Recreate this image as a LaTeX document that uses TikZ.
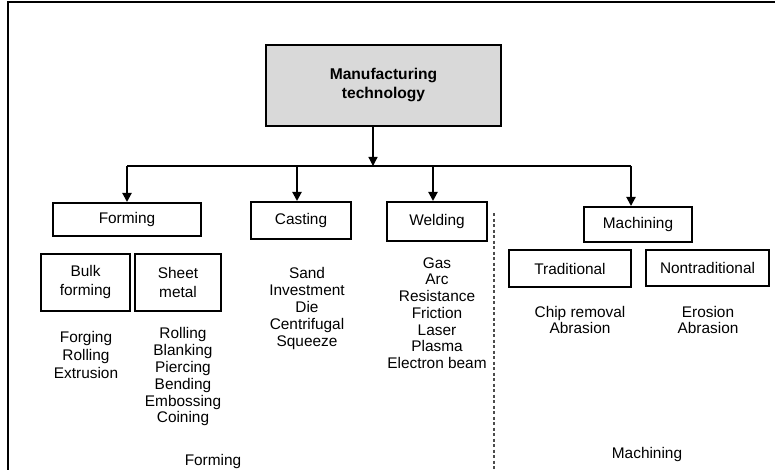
\documentclass[tikz,border=0pt]{standalone}
\usepackage{fontspec}
\setmainfont{Liberation Sans}
\usetikzlibrary{arrows.meta}
\begin{document}
\begin{tikzpicture}[x=1pt,y=-1pt,
  box/.style={draw, line width=2pt, inner sep=0pt, align=center, font=\fontsize{15.4}{19}\selectfont},
  lst/.style={align=center, inner sep=0pt, font=\fontsize{15.4}{16.8}\selectfont},
  lbl/.style={inner sep=0pt, font=\fontsize{15.4}{17}\selectfont},
  arr/.style={line width=2pt, -{Triangle[length=9pt,width=9pt]}},
  stemarr/.style={line width=1.3pt, -{Triangle[length=9pt,width=9pt]}},
  busline/.style={line width=1.6pt},
  sep/.style={line width=1.3pt, dash pattern=on 3pt off 2.5pt, black!70}]
\useasboundingbox (0,0) rectangle (775,470);
% frame
\coordinate (fTR) at (775,2);
\coordinate (fTL) at (8,2);
\coordinate (fBL) at (8,470);
\draw[line width=2.5pt, line join=miter] (fTR) -- (fTL) -- (fBL);
% main box
\node[box, fill=black!15, line width=2.5pt, minimum width=235pt, minimum height=81pt,
      font=\bfseries\fontsize{15.6}{19}\selectfont] (mt) at (383.5,85.5) {Manufacturing\\technology};
% category boxes
\node[box, minimum width=148pt, minimum height=33pt] (forming) at (127,219.5) {Forming};
\node[box, minimum width=100pt, minimum height=37pt] (casting) at (301,220.5) {Casting};
\node[box, minimum width=100pt, minimum height=39pt] (welding) at (437,221.5) {Welding};
\node[box, minimum width=108pt, minimum height=35pt] (machining) at (638,224.5) {Machining};
% sub boxes
\node[box, minimum width=89pt, minimum height=57pt] (bulk) at (85.5,282.5) {Bulk\\forming};
\node[box, minimum width=86pt, minimum height=57pt] (sheet) at (178,282.5) {Sheet\\metal};
\node[box, minimum width=122pt, minimum height=37pt] (trad) at (570,268.5) {Traditional};
\node[box, minimum width=123pt, minimum height=36pt] (nontrad) at (707.5,268) {Nontraditional};
% lists
\node[lst, font=\fontsize{15.4}{18}\selectfont] (bulkL) at (86,355) {Forging\\Rolling\\Extrusion};
\node[lst] (sheetL) at (183,377) {Rolling\\Blanking\\Piercing\\Bending\\Embossing\\Coining};
\node[lst] (castL) at (307,308.5) {Sand\\Investment\\Die\\Centrifugal\\Squeeze};
\node[lst, font=\fontsize{15.4}{16.7}\selectfont] (weldL) at (437,313) {Gas\\Arc\\Resistance\\Friction\\Laser\\Plasma\\Electron beam};
\node[lst, font=\fontsize{15.4}{16}\selectfont] (tradL) at (580,320) {Chip removal\\Abrasion};
\node[lst, font=\fontsize{15.4}{16}\selectfont] (nontL) at (708,320) {Erosion\\Abrasion};
% bottom labels
\node[lbl] (formLbl) at (213,462) {Forming};
\node[lbl] (machLbl) at (647,455) {Machining};
% connectors
\coordinate (bus) at (373,166);
\coordinate (busL) at (127,166);
\coordinate (busR) at (631,166);
\coordinate (cA) at (297,166);
\coordinate (wA) at (433,166);
\draw[stemarr] (mt.south -| bus) -- (bus);
\draw[busline] (busL) -- (busR);
\draw[arr] (busL) -- (forming.north);
\draw[arr] (cA) -- (cA |- casting.north);
\draw[arr] (wA) -- (wA |- welding.north);
\draw[arr] (busR) -- (busR |- machining.north);
% separator
\coordinate (dTop) at (494,213);
\coordinate (dBot) at (494,470);
\draw[sep] (dTop) -- (dBot);
\end{tikzpicture}
\end{document}
